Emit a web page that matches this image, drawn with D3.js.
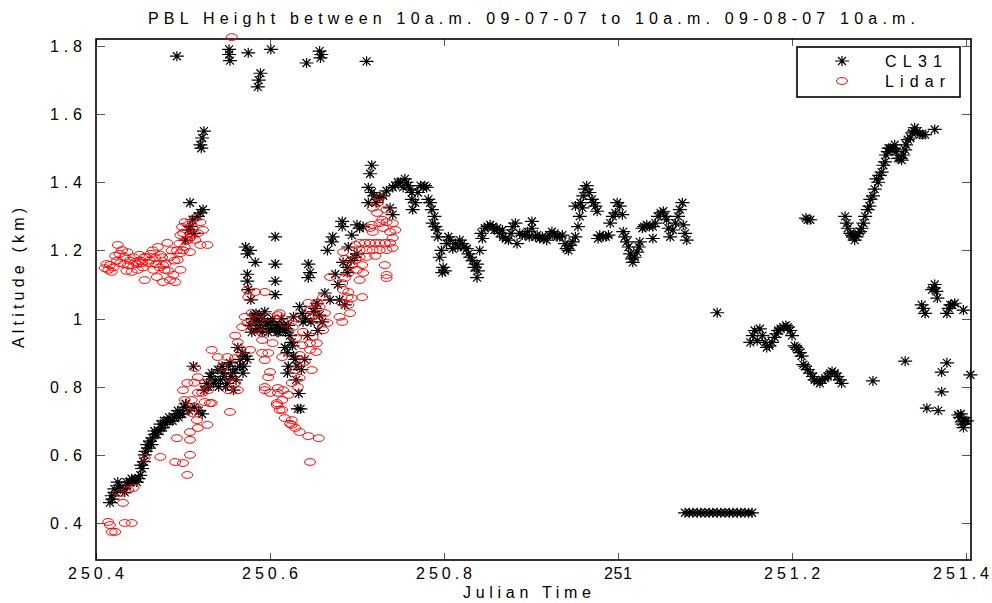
<!DOCTYPE html>
<html>
<head>
<meta charset="utf-8">
<script src="https://cdn.jsdelivr.net/npm/d3@7"></script>
<style>
  html, body { margin: 0; padding: 0; background: #fff; }
  svg { display: block; }
  text { font-family: "Liberation Sans", Arial, sans-serif; fill: #000; }
</style>
</head>
<body>
<svg id="chart" width="992" height="603"></svg>
<script>
// ---------------- DATA ----------------
const titleText = "PBL Height between 10a.m. 09-07-07 to 10a.m. 09-08-07 10a.m.";
const xLabelText = "Julian Time";
const yLabelText = "Altitude (km)";
const seriesNames = ["CL31", "Lidar"];
const xTicks = [250.4, 250.6, 250.8, 251, 251.2, 251.4];
const yTicks = [0.4, 0.6, 0.8, 1, 1.2, 1.4, 1.6, 1.8];
const xDomain = [250.4, 251.4057];
const yDomain = [0.2914, 1.8205];

// CL31 ceilometer PBL height [julian time, km]
const cl31 = [
  [250.416,0.46],[250.419,0.47],[250.423,0.49],[250.425,0.52],[250.428,0.50],[250.433,0.49],[250.436,0.51],
  [250.439,0.52],[250.443,0.52],[250.447,0.52],[250.451,0.54],[250.453,0.56],[250.455,0.58],[250.457,0.61],
  [250.460,0.62],[250.465,0.65],[250.468,0.66],[250.472,0.67],[250.475,0.68],[250.480,0.69],[250.485,0.70],
  [250.490,0.71],[250.495,0.71],[250.499,0.72],[250.503,0.75],[250.507,0.73],[250.513,0.74],[250.518,0.73],
  [250.418,0.48],[250.421,0.50],[250.427,0.51],[250.431,0.50],[250.435,0.52],[250.441,0.53],[250.445,0.53],
  [250.449,0.53],[250.452,0.57],[250.456,0.60],[250.459,0.63],[250.462,0.64],[250.464,0.63],[250.467,0.67],
  [250.470,0.66],[250.474,0.69],[250.477,0.68],[250.478,0.70],[250.482,0.70],[250.484,0.71],[250.488,0.70],
  [250.492,0.72],[250.494,0.73],[250.497,0.72],[250.501,0.74],
  [250.522,0.72],[250.524,0.79],[250.527,0.81],[250.531,0.83],[250.535,0.81],[250.512,0.86],[250.540,0.85],
  [250.543,0.82],[250.546,0.84],[250.549,0.80],[250.552,0.86],[250.555,0.83],[250.558,0.79],[250.560,0.85],
  [250.529,0.80],[250.533,0.84],[250.537,0.82],[250.541,0.80],[250.545,0.86],[250.548,0.83],[250.551,0.81],
  [250.554,0.87],[250.557,0.84],[250.561,0.82],[250.565,0.86],[250.569,0.84],
  [250.563,0.915],[250.568,0.90],[250.574,0.88],[250.566,0.88],[250.570,0.86],[250.572,0.89],
  [250.577,0.98],[250.580,1.00],[250.583,0.99],[250.586,1.01],[250.589,0.97],[250.592,1.00],[250.595,0.98],
  [250.598,0.96],[250.601,0.99],[250.605,0.97],[250.608,0.96],[250.611,0.98],[250.614,0.97],[250.618,0.96],
  [250.579,0.96],[250.582,1.01],[250.585,0.97],[250.588,0.99],[250.591,0.96],[250.594,1.02],[250.597,0.99],
  [250.600,0.97],[250.603,1.00],[250.607,0.98],[250.610,0.96],[250.613,1.00],[250.616,0.98],[250.619,0.97],
  [250.621,0.98],[250.617,0.915],[250.620,0.90],[250.621,0.86],[250.620,0.84],
  [250.577,1.20],[250.574,1.19],[250.583,1.165],[250.574,1.13],[250.574,1.11],[250.575,1.085],[250.578,1.055],
  [250.584,1.015],[250.572,1.21],
  [250.606,1.24],[250.606,1.16],[250.606,1.11],[250.606,1.07],
  [250.625,0.93],[250.627,0.89],[250.630,0.82],[250.633,0.78],[250.635,0.735],[250.632,0.735],
  [250.623,0.95],[250.626,0.92],[250.629,0.88],[250.631,0.86],[250.636,0.85],[250.640,0.88],[250.643,0.95],
  [250.647,0.99],[250.650,1.02],[250.652,1.03],[250.641,1.00],[250.638,0.99],
  [250.634,1.035],[250.637,1.015],[250.627,1.005],[250.654,1.045],[250.663,1.075],[250.644,1.16],[250.646,1.135],
  [250.644,1.12],[250.657,1.01],[250.660,0.99],[250.655,0.965],[250.666,1.20],[250.671,1.225],[250.672,1.24],
  [250.683,1.285],[250.683,1.27],[250.690,1.21],[250.694,1.245],[250.700,1.275],[250.703,1.265],[250.707,1.27],
  [250.689,1.15],[250.689,1.135],[250.684,1.165],[250.675,1.13],[250.678,1.10],[250.680,1.055],[250.669,1.055],
  [250.686,1.04],[250.693,1.17],[250.697,1.18],[250.700,1.19],
  [250.713,1.34],[250.717,1.37],[250.713,1.385],[250.715,1.425],[250.717,1.45],[250.726,1.355],[250.734,1.375],
  [250.738,1.325],[250.741,1.305],[250.741,1.385],[250.747,1.40],[250.753,1.385],[250.755,1.41],[250.759,1.39],
  [250.763,1.37],[250.763,1.35],[250.764,1.32],[250.776,1.385],[250.780,1.385],[250.782,1.35],[250.786,1.32],
  [250.787,1.28],[250.792,1.26],[250.793,1.24],[250.795,1.18],[250.799,1.15],[250.798,1.135],[250.807,1.23],
  [250.810,1.205],[250.821,1.22],[250.826,1.205],[250.830,1.18],[250.838,1.16],[250.839,1.14],[250.838,1.12],
  [250.841,1.20],[250.844,1.235],[250.847,1.265],[250.853,1.275],[250.861,1.265],[250.867,1.26],[250.868,1.24],
  [250.874,1.23],[250.882,1.28],[250.884,1.22],[250.887,1.25],[250.893,1.245],[250.901,1.285],[250.901,1.265],
  [250.905,1.24],[250.910,1.235],[250.918,1.23],[250.924,1.255],[250.930,1.24],[250.936,1.245],[250.941,1.205],
  [250.945,1.215],[250.951,1.24],[250.954,1.27],[250.951,1.33],[250.959,1.325],[250.960,1.36],[250.964,1.39],
  [250.970,1.35],[250.974,1.33],[250.976,1.315],[250.977,1.235],[250.983,1.24],[250.989,1.245],[250.991,1.28],
  [250.997,1.31],[250.999,1.34],[251.005,1.305],[251.006,1.255],[251.010,1.225],[251.014,1.19],[251.017,1.165],
  [251.022,1.195],[251.025,1.225],[251.028,1.265],[251.033,1.275],[251.040,1.27],[251.040,1.235],[251.046,1.30],
  [251.052,1.315],[251.056,1.29],[251.060,1.24],[251.066,1.28],[251.069,1.30],[251.074,1.34],[251.075,1.275],
  [251.079,1.23],
  [250.720,1.36],[250.722,1.34],[250.730,1.36],[250.744,1.39],[250.750,1.40],[250.757,1.40],[250.761,1.38],
  [250.767,1.34],[250.770,1.37],[250.773,1.39],[250.778,1.39],[250.784,1.34],[250.789,1.30],[250.790,1.27],
  [250.797,1.20],[250.801,1.14],[250.803,1.22],[250.805,1.24],[250.813,1.22],[250.816,1.21],[250.818,1.23],
  [250.823,1.21],[250.828,1.19],[250.833,1.17],[250.835,1.15],[250.843,1.25],[250.850,1.27],[250.856,1.27],
  [250.858,1.26],[250.864,1.25],[250.871,1.235],[250.877,1.25],[250.879,1.27],[250.890,1.245],[250.896,1.255],
  [250.898,1.24],[250.907,1.245],[250.913,1.24],[250.915,1.235],[250.921,1.245],[250.927,1.25],[250.933,1.24],
  [250.939,1.22],[250.943,1.20],[250.948,1.225],[250.956,1.30],[250.957,1.34],[250.962,1.38],[250.967,1.37],
  [250.972,1.34],[250.979,1.245],[250.986,1.24],[250.994,1.30],[251.002,1.33],[251.008,1.24],[251.012,1.21],
  [251.016,1.175],[251.019,1.18],[251.024,1.21],[251.030,1.27],[251.036,1.27],[251.043,1.28],[251.049,1.31],
  [251.054,1.30],[251.058,1.265],[251.063,1.26],[251.071,1.32],[251.077,1.25],
  [251.114,1.017],
  [251.077,0.43],[251.082,0.43],[251.086,0.43],[251.091,0.43],[251.095,0.43],[251.100,0.43],[251.105,0.43],
  [251.109,0.43],[251.114,0.43],[251.118,0.43],[251.123,0.43],[251.128,0.43],[251.132,0.43],[251.137,0.43],
  [251.141,0.43],[251.146,0.43],[251.150,0.43],[251.154,0.43],
  [251.152,0.93],[251.157,0.965],[251.160,0.935],[251.163,0.97],[251.169,0.93],[251.171,0.915],[251.177,0.93],
  [251.180,0.945],[251.184,0.965],[251.190,0.975],[251.195,0.975],[251.200,0.95],[251.203,0.92],[251.207,0.91],
  [251.211,0.89],[251.213,0.865],[251.221,0.84],[251.226,0.82],[251.232,0.81],[251.238,0.825],[251.244,0.84],
  [251.249,0.84],[251.255,0.82],[251.257,0.81],[251.293,0.817],[251.330,0.875],
  [251.155,0.95],[251.166,0.95],[251.174,0.92],[251.182,0.955],[251.187,0.97],[251.193,0.98],[251.198,0.965],
  [251.205,0.915],[251.209,0.90],[251.215,0.86],[251.218,0.85],[251.224,0.83],[251.229,0.815],[251.235,0.82],
  [251.241,0.83],[251.246,0.845],[251.252,0.83],
  [251.216,1.295],[251.221,1.29],[251.261,1.30],[251.264,1.265],[251.269,1.245],[251.272,1.23],[251.276,1.25],
  [251.280,1.265],[251.284,1.30],[251.287,1.32],[251.290,1.35],[251.293,1.36],[251.297,1.41],[251.301,1.42],
  [251.305,1.45],[251.308,1.48],[251.311,1.50],[251.315,1.495],[251.318,1.51],[251.322,1.47],[251.326,1.465],
  [251.330,1.495],[251.333,1.525],[251.338,1.545],[251.341,1.56],[251.347,1.54],[251.353,1.54],[251.364,1.555],
  [251.218,1.29],[251.263,1.28],[251.267,1.25],[251.270,1.24],[251.274,1.24],[251.278,1.255],[251.282,1.28],
  [251.289,1.33],[251.295,1.38],[251.299,1.40],[251.303,1.43],[251.307,1.46],[251.310,1.49],[251.313,1.50],
  [251.317,1.50],[251.320,1.49],[251.324,1.47],[251.328,1.48],[251.331,1.51],[251.336,1.53],[251.340,1.55],
  [251.344,1.55],[251.350,1.54],
  [251.361,1.085],[251.364,1.10],[251.367,1.06],[251.349,1.04],[251.353,1.015],[251.382,1.04],[251.378,1.015],
  [251.387,1.045],[251.397,1.025],[251.405,0.835],[251.355,0.737],[251.368,0.73],[251.372,0.785],[251.378,0.87],
  [251.372,0.843],[251.391,0.717],[251.395,0.697],[251.401,0.70],[251.397,0.68],[251.393,0.71],
  [251.363,1.09],[251.366,1.08],[251.351,1.03],[251.380,1.03],[251.384,1.04],[251.399,0.70],[251.396,0.69],
  [251.394,0.72],
  [250.493,1.77],[250.553,1.79],[250.553,1.775],[250.554,1.757],[250.575,1.78],[250.601,1.79],[250.589,1.72],
  [250.587,1.70],[250.586,1.68],[250.642,1.75],[250.657,1.785],[250.659,1.775],[250.658,1.765],[250.711,1.755],
  [250.524,1.55],[250.522,1.53],[250.520,1.51],[250.521,1.50],
  [250.503,1.23],[250.506,1.26],[250.508,1.34],[250.509,1.27],[250.511,1.29],[250.513,1.25],[250.517,1.30],
  [250.520,1.31],[250.523,1.32]
];

// Lidar PBL height [julian time, km]
const lidar = [
  [250.425,1.216],[250.416,1.157],[250.418,1.137],[250.428,1.163],[250.433,1.181],[250.437,1.157],[250.441,1.137],
  [250.453,1.163],[250.456,1.181],[250.460,1.163],[250.456,1.113],[250.466,1.143],[250.471,1.210],[250.474,1.187],
  [250.477,1.157],[250.482,1.222],[250.477,1.107],[250.489,1.128],[250.491,1.107],[250.485,1.181],[250.497,1.192],
  [250.502,1.210],[250.508,1.195],[250.514,1.231],[250.520,1.216],[250.497,1.245],[250.500,1.251],[250.510,1.245],
  [250.499,1.269],[250.410,1.148],[250.414,1.143],[250.422,1.184],[250.430,1.201],[250.445,1.166],[250.448,1.143],
  [250.468,1.178],[250.470,1.122],[250.479,1.143],[250.494,1.172],[250.497,1.143],[250.485,1.113],[250.436,1.195],
  [250.450,1.187],[250.463,1.190],
  [250.412,1.160],[250.420,1.150],[250.424,1.170],[250.427,1.190],[250.432,1.160],[250.435,1.140],[250.439,1.170],
  [250.443,1.180],[250.447,1.160],[250.451,1.170],[250.454,1.150],[250.458,1.180],[250.462,1.170],[250.465,1.200],
  [250.469,1.160],[250.473,1.150],[250.476,1.180],[250.480,1.160],[250.483,1.140],[250.487,1.200],[250.490,1.170],
  [250.493,1.200],[250.496,1.220],[250.505,1.230],[250.500,1.200],
  [250.502,1.283],[250.506,1.275],[250.511,1.266],[250.508,1.237],[250.517,1.251],[250.520,1.283],[250.514,1.295],
  [250.528,1.216],[250.523,1.260],
  [250.574,1.084],[250.583,1.078],[250.594,1.078],[250.575,1.063],[250.579,1.016],[250.571,1.005],[250.574,0.987],
  [250.583,0.966],[250.591,0.958],[250.568,0.975],[250.586,0.996],[250.598,1.005],[250.609,1.010],[250.591,0.937],
  [250.603,0.928],[250.598,0.899],[250.614,0.887],[250.591,0.899],[250.594,0.878],[250.600,0.843],[250.598,0.828],
  [250.594,0.799],[250.600,0.782],[250.609,0.796],[250.615,0.790],[250.608,0.752],[250.614,0.732],[250.577,0.908],
  [250.533,0.908],[250.540,0.887],[250.551,0.887],[250.560,0.884],[250.545,0.858],[250.554,0.828],[250.560,0.811],
  [250.563,0.790],[250.552,0.790],[250.514,0.855],[250.517,0.828],[250.525,0.811],[250.529,0.790],[250.522,0.782],
  [250.505,0.811],[250.513,0.812],[250.500,0.790],[250.510,0.761],[250.525,0.755],[250.514,0.740],[250.533,0.752],
  [250.554,0.726],[250.502,0.761],[250.517,0.782],[250.531,0.752],[250.510,0.723],[250.516,0.702],[250.508,0.667],
  [250.517,0.679],[250.528,0.688],[250.493,0.649],[250.508,0.644],[250.474,0.594],[250.491,0.579],[250.500,0.576],
  [250.508,0.600],[250.505,0.541],[250.456,0.591],[250.560,0.950],[250.563,0.930],[250.566,0.910],
  [250.431,0.459],[250.428,0.488],[250.437,0.497],[250.443,0.503],[250.414,0.403],[250.416,0.394],[250.418,0.374],
  [250.422,0.374],[250.433,0.400],[250.441,0.400],
  [250.594,0.790],[250.609,0.782],[250.608,0.746],[250.611,0.732],[250.625,0.702],[250.625,0.688],
  [250.630,0.943],[250.637,0.922],[250.646,0.908],[250.634,0.893],[250.653,0.902],[250.640,0.873],[250.648,0.849],
  [250.629,0.849],[250.634,0.826],[250.625,0.811],[250.632,0.799],[250.621,0.776],[250.614,0.761],[250.617,0.708],
  [250.623,0.691],[250.629,0.679],[250.634,0.667],[250.644,0.655],[250.656,0.649],[250.646,0.579],
  [250.726,1.355],[250.724,1.340],[250.718,1.325],[250.723,1.310],[250.734,1.320],[250.729,1.290],[250.734,1.283],
  [250.741,1.280],[250.744,1.260],[250.738,1.254],[250.730,1.266],[250.726,1.280],[250.717,1.275],[250.718,1.254],
  [250.703,1.222],[250.709,1.222],[250.715,1.222],[250.721,1.222],[250.726,1.222],[250.732,1.222],[250.738,1.222],
  [250.741,1.237],[250.741,1.207],[250.734,1.201],[250.726,1.201],[250.718,1.201],[250.711,1.201],[250.703,1.201],
  [250.698,1.216],[250.703,1.181],[250.711,1.181],[250.721,1.184],[250.715,1.266],[250.698,1.172],[250.694,1.157],
  [250.706,1.157],[250.700,1.143],[250.707,1.134],[250.732,1.157],[250.734,1.128],[250.734,1.119],[250.684,1.195],
  [250.686,1.175],[250.690,1.134],[250.686,1.119],[250.683,1.104],[250.684,1.084],[250.690,1.078],[250.689,1.063],
  [250.694,1.060],[250.706,1.063],[250.703,1.113],[250.683,1.046],[250.690,1.040],[250.692,1.016],[250.680,1.005],
  [250.683,0.990],[250.669,1.122],[250.654,1.046],[250.657,1.034],[250.644,1.046],[250.646,1.025],[250.663,1.016],
  [250.661,1.063],[250.649,1.005],[250.654,0.996],[250.666,0.987],[250.661,0.966],[250.649,0.946],[250.629,1.002],
  [250.617,0.987],[250.626,0.975],[250.638,0.961],[250.611,1.016],[250.654,0.928],[250.646,0.928],
  [250.556,1.826]
];

// ---------------- CHART ----------------
const svg = d3.select("#chart");
const plot = { left: 96, right: 971, top: 39, bottom: 560 };

const x = d3.scaleLinear().domain(xDomain).range([plot.left, plot.right]);
const y = d3.scaleLinear().domain(yDomain).range([plot.bottom, plot.top]);

const fontSize = 16;

// title
svg.append("text")
  .attr("x", 148).attr("y", 24)
  .attr("font-size", fontSize)
  .attr("textLength", 767).attr("lengthAdjust", "spacing")
  .text(titleText);

// ticks (inside, on all four sides)
const tickG = svg.append("g").attr("stroke", "#555").attr("stroke-width", 1);
xTicks.forEach(t => {
  const px = Math.round(x(t)) + 0.5;
  tickG.append("line").attr("x1", px).attr("x2", px).attr("y1", plot.bottom).attr("y2", plot.bottom - 7);
  tickG.append("line").attr("x1", px).attr("x2", px).attr("y1", plot.top).attr("y2", plot.top + 7);
});
yTicks.forEach(v => {
  const py = Math.round(y(v)) + 0.5;
  tickG.append("line").attr("x1", plot.left).attr("x2", plot.left + 9).attr("y1", py).attr("y2", py);
  tickG.append("line").attr("x1", plot.right).attr("x2", plot.right - 9).attr("y1", py).attr("y2", py);
});

// box
svg.append("rect")
  .attr("x", plot.left).attr("y", plot.top)
  .attr("width", plot.right - plot.left).attr("height", plot.bottom - plot.top)
  .attr("fill", "none").attr("stroke", "#000").attr("stroke-width", 1.6);

// tick labels
const fmt = d => d3.format("")(+d.toFixed(1));
xTicks.forEach(t => {
  const s = fmt(t);
  const len = s.length === 3 ? 28 : 56;
  const cx = Math.max(Math.min(x(t), 989 - len / 2), 4 + len / 2);
  svg.append("text")
    .attr("x", cx).attr("y", 579)
    .attr("text-anchor", "middle")
    .attr("font-size", fontSize)
    .attr("textLength", len).attr("lengthAdjust", "spacing")
    .text(s);
});
yTicks.forEach(v => {
  const s = fmt(v);
  svg.append("text")
    .attr("x", 82).attr("y", y(v) + 6)
    .attr("text-anchor", "end")
    .attr("font-size", fontSize)
    .attr("textLength", s.length === 3 ? 32 : null)
    .attr("lengthAdjust", "spacing")
    .text(s);
});

// axis labels
svg.append("text")
  .attr("x", 527).attr("y", 598)
  .attr("text-anchor", "middle")
  .attr("font-size", fontSize)
  .attr("textLength", 128).attr("lengthAdjust", "spacing")
  .text(xLabelText);

svg.append("text")
  .attr("transform", "translate(24,278) rotate(-90)")
  .attr("text-anchor", "middle")
  .attr("font-size", fontSize)
  .attr("textLength", 140).attr("lengthAdjust", "spacing")
  .text(yLabelText);

// markers
const starPath = "M-7,0H7M0,-5V5M-4,-4L4,4M-4,4L4,-4";

svg.append("g").selectAll("path")
  .data(cl31).join("path")
  .attr("transform", d => `translate(${x(d[0])},${y(d[1])})`)
  .attr("d", starPath)
  .attr("stroke", "#000").attr("stroke-width", 1.2).attr("fill", "none");

svg.append("g").selectAll("ellipse")
  .data(lidar).join("ellipse")
  .attr("cx", d => x(d[0])).attr("cy", d => y(d[1]))
  .attr("rx", 5.5).attr("ry", 3.4)
  .attr("fill", "none").attr("stroke", "#f00").attr("stroke-width", 1);

// legend
const lg = svg.append("g");
lg.append("rect").attr("x", 797).attr("y", 47).attr("width", 163).attr("height", 50)
  .attr("fill", "#fff").attr("stroke", "#000").attr("stroke-width", 1.6);
lg.append("path").attr("transform", "translate(842,61)").attr("d", starPath)
  .attr("stroke", "#000").attr("stroke-width", 1.2).attr("fill", "none");
lg.append("ellipse").attr("cx", 842).attr("cy", 81).attr("rx", 5.5).attr("ry", 3.4)
  .attr("fill", "none").attr("stroke", "#f00").attr("stroke-width", 1);
lg.append("text").attr("x", 885).attr("y", 67).attr("font-size", fontSize)
  .attr("textLength", 57).attr("lengthAdjust", "spacing").text(seriesNames[0]);
lg.append("text").attr("x", 885).attr("y", 87).attr("font-size", fontSize)
  .attr("textLength", 60).attr("lengthAdjust", "spacing").text(seriesNames[1]);
</script>
</body>
</html>
